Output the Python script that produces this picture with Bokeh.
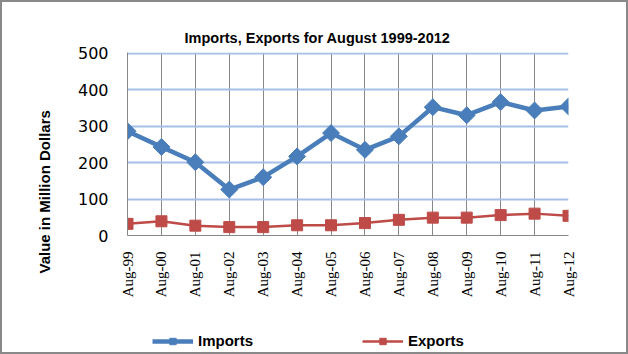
from math import pi
from bokeh.plotting import figure
from bokeh.layouts import column
from bokeh.models import Range1d, FixedTicker, Legend, LegendItem, Title
from bokeh.embed import file_html
from bokeh.resources import INLINE

months = ["Aug-99", "Aug-00", "Aug-01", "Aug-02", "Aug-03", "Aug-04", "Aug-05",
          "Aug-06", "Aug-07", "Aug-08", "Aug-09", "Aug-10", "Aug-11", "Aug-12"]
imports = [286, 243, 201, 126, 160, 217, 281, 235, 272, 352, 330, 366, 343, 354]
exports = [32, 39, 27, 23, 23, 28, 28, 34, 43, 49, 49, 56, 60, 54]
y_ticks = [0, 100, 200, 300, 400, 500]

IMP_COLOR = "#4a7ebb"
EXP_COLOR = "#be4b48"

x = list(range(len(months)))

p = figure(width=624, height=316, output_backend="svg", toolbar_location=None,
           x_range=Range1d(0, len(months) - 1), y_range=Range1d(0, 502),
           min_border_left=125, min_border_right=58, min_border_top=50,
           min_border_bottom=83)
p.outline_line_color = None
p.background_fill_color = "white"
p.border_fill_color = "white"

p.title.text = "Imports, Exports for August 1999-2012"
p.title.align = "left"
p.title.offset = 57
p.title.standoff = 13
p.title.text_font = "Liberation Sans"
p.title.text_font_style = "bold"
p.title.text_font_size = "14.5px"
p.title.text_color = "black"

p.xgrid.ticker = FixedTicker(ticks=x)
p.xgrid.grid_line_color = "#878787"
p.xgrid.grid_line_width = 1
p.ygrid.ticker = FixedTicker(ticks=y_ticks[1:])
p.ygrid.grid_line_color = "#a5bfe6"
p.ygrid.grid_line_width = 2

xa = p.xaxis[0]
xa.ticker = FixedTicker(ticks=x)
xa.major_label_overrides = {i: m for i, m in enumerate(months)}
xa.major_label_orientation = pi / 2
xa.major_tick_line_color = None
xa.major_tick_out = 0
xa.minor_tick_line_color = None
xa.axis_line_color = "#878787"
xa.major_label_text_font = "Liberation Serif"
xa.major_label_text_font_size = "15px"
xa.major_label_text_color = "black"
xa.major_label_standoff = 16

ya = p.yaxis[0]
ya.ticker = FixedTicker(ticks=y_ticks)
ya.major_tick_line_color = None
ya.major_tick_out = 0
ya.minor_tick_line_color = None
ya.axis_line_color = "#878787"
ya.major_label_text_font = "DejaVu Sans"
ya.major_label_text_font_size = "16px"
ya.major_label_text_color = "black"
ya.major_label_standoff = 19

p.line(x, imports, line_color=IMP_COLOR, line_width=4.5)
p.scatter(x, imports, marker="square", angle=pi / 4, size=12,
          fill_color=IMP_COLOR, line_color=IMP_COLOR)
p.line(x, exports, line_color=EXP_COLOR, line_width=2.5)
p.scatter(x, exports, marker="square", size=11,
          fill_color=EXP_COLOR, line_color=EXP_COLOR)

ylab = Title(text="Value in Million Dollars", align="left", offset=-38,
             standoff=44, text_font="Liberation Sans", text_font_style="bold",
             text_font_size="15px", text_color="black")
p.add_layout(ylab, "left")

# legend strip below the chart
p2 = figure(width=624, height=34, output_backend="svg", toolbar_location=None,
            x_range=Range1d(0, 1), y_range=Range1d(10000, 10001),
            x_axis_type=None, y_axis_type=None,
            min_border_left=0, min_border_right=0, min_border_top=0,
            min_border_bottom=0)
p2.outline_line_color = None
p2.grid.visible = False
p2.background_fill_color = "white"
p2.border_fill_color = "white"

l_imp = p2.line(x, imports, line_color=IMP_COLOR, line_width=4.5)
s_imp = p2.scatter(x, imports, marker="square", angle=pi / 4, size=12,
                   fill_color=IMP_COLOR, line_color=IMP_COLOR)
l_exp = p2.line(x, exports, line_color=EXP_COLOR, line_width=2.5)
s_exp = p2.scatter(x, exports, marker="square", size=11,
                   fill_color=EXP_COLOR, line_color=EXP_COLOR)


def make_legend(label, rends, xloc):
    lg = Legend(items=[LegendItem(label=label, renderers=rends)],
                location=(xloc, 3), padding=0, margin=0, spacing=0,
                border_line_color=None, background_fill_alpha=0,
                glyph_width=41, glyph_height=16, label_height=16,
                label_standoff=5, label_text_font="Liberation Sans",
                label_text_font_style="bold", label_text_font_size="15px",
                label_text_baseline="middle", label_text_color="black")
    p2.add_layout(lg, "center")


make_legend("Imports", [l_imp, s_imp], 25)
make_legend("Exports", [l_exp, s_exp], 235)

layout = column(p, p2, spacing=0,
                styles={"border": "2px solid #898989", "box-sizing": "border-box"})

open("out.html", "w").write(file_html(layout, INLINE))
